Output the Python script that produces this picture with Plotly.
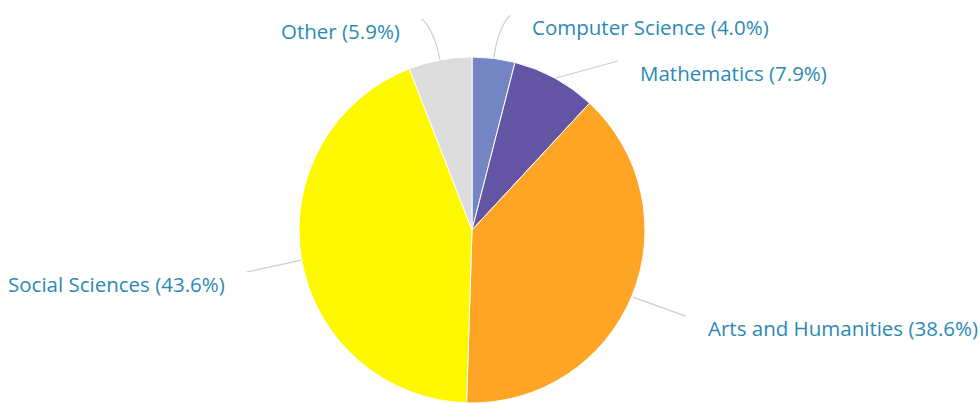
import math
import plotly.graph_objects as go

# ---- data ----
subjects = ["Computer Science", "Mathematics", "Arts and Humanities", "Social Sciences", "Other"]
shares = [4.0, 7.9, 38.6, 43.6, 5.9]

# ---- style / layout constants ----
colors = ["#7485c4", "#6355a3", "#ffa526", "#fdf700", "#dcdcdc"]
W, H = 979, 403
CX, CY, R = 472, 231, 174          # pie centre and radius in pixels
TEXT_COLOR = "#2b8ab4"
LINE_COLOR = "#cccccc"
FONT = "Open Sans"
FONT_SIZE = 20.5
# per-label connector tuning: (angle nudge deg, extra radius px, bend px)
label_tune = {
    "Computer Science": (2.8, 45, 30),
    "Mathematics": (12.0, 50, 0),
    "Arts and Humanities": (-0.6, 56, 0),
    "Social Sciences": (-0.6, 55, 0),
    "Other": (-2.7, 44, 30),
}
TEXT_DX, TEXT_DY = 20, 12


def px(x):
    return x / W


def py(y):
    return 1 - y / H


fig = go.Figure()
fig.add_trace(go.Pie(
    labels=subjects,
    values=shares,
    sort=False,
    direction="clockwise",
    rotation=0,
    textinfo="none",
    hoverinfo="label+percent",
    marker=dict(colors=colors, line=dict(color="white", width=1)),
    domain=dict(x=[px(CX - R), px(CX + R)], y=[0, py(CY - R)]),
    showlegend=False,
))

total = sum(shares)
cum = 0.0
shapes = []
annotations = []
for name, val in zip(subjects, shares):
    a0 = cum / total * 360
    cum += val
    a1 = cum / total * 360
    mid = (a0 + a1) / 2
    nudge, extra, bend = label_tune[name]
    rm = math.radians(mid)
    ux, uy = math.sin(rm), -math.cos(rm)
    p0 = (CX + R * ux, CY + R * uy)
    ra = math.radians(mid + nudge)
    e = (CX + (R + extra) * math.sin(ra), CY - (R + extra) * math.cos(ra))
    if bend > 0:
        c = (CX + (R + bend) * ux, CY + (R + bend) * uy)
    else:
        c = ((p0[0] + e[0]) / 2, (p0[1] + e[1]) / 2)
    path = "M {} {} Q {} {} {} {}".format(px(p0[0]), py(p0[1]), px(c[0]), py(c[1]), px(e[0]), py(e[1]))
    shapes.append(dict(type="path", path=path, xref="paper", yref="paper",
                       line=dict(color=LINE_COLOR, width=1.2)))
    right = math.sin(ra) >= 0
    tx = e[0] + (TEXT_DX if right else -TEXT_DX)
    ty = e[1] + TEXT_DY
    annotations.append(dict(
        x=px(tx), y=py(ty), xref="paper", yref="paper",
        text=f"{name} ({val:.1f}%)", showarrow=False,
        xanchor="left" if right else "right", yanchor="middle",
        font=dict(family=FONT, size=FONT_SIZE, color=TEXT_COLOR),
    ))

fig.update_layout(
    width=W, height=H,
    margin=dict(l=0, r=0, t=0, b=0),
    paper_bgcolor="white",
    plot_bgcolor="white",
    shapes=shapes,
    annotations=annotations,
)

fig.write_html("out.html", config={"displayModeBar": False},
               post_script="document.body.style.margin='0';document.body.style.overflow='hidden';")
